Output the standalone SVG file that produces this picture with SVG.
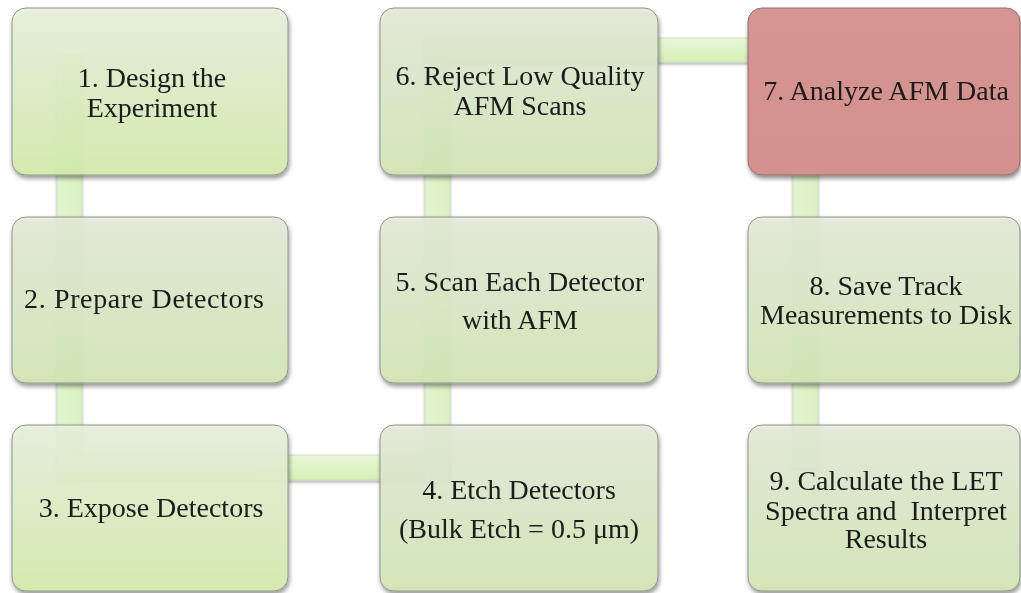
<svg xmlns="http://www.w3.org/2000/svg" width="1021" height="593" viewBox="0 0 1021 593">
<defs>
<linearGradient id="gBox" x1="0" y1="0" x2="0" y2="1">
<stop offset="0" stop-color="#e5ecdb"/>
<stop offset="1" stop-color="#d4e9b6"/>
</linearGradient>
<linearGradient id="gBox1" x1="0" y1="0" x2="0" y2="1">
<stop offset="0" stop-color="#e9f2de"/>
<stop offset="1" stop-color="#d5eead"/>
</linearGradient>
<linearGradient id="gRed" x1="0" y1="0" x2="0" y2="1">
<stop offset="0" stop-color="#d69592"/>
<stop offset="1" stop-color="#d4918e"/>
</linearGradient>
<linearGradient id="gBarV" x1="0" y1="0" x2="1" y2="0">
<stop offset="0" stop-color="#e4f5cf"/>
<stop offset="1" stop-color="#dcf1c2"/>
</linearGradient>
<linearGradient id="gBarH" x1="0" y1="0" x2="0" y2="1">
<stop offset="0" stop-color="#eaf8d9"/>
<stop offset="1" stop-color="#d6efb5"/>
</linearGradient>
<filter id="sh" x="-10%" y="-10%" width="120%" height="125%">
<feDropShadow dx="1" dy="3" stdDeviation="2" flood-color="#000" flood-opacity="0.45"/>
</filter>
<filter id="shb" x="-10%" y="-10%" width="120%" height="130%">
<feDropShadow dx="0" dy="2" stdDeviation="1.5" flood-color="#000" flood-opacity="0.3"/>
</filter>
</defs>
<style>
.box{fill:url(#gBox);fill-opacity:0.88;stroke:#8e9488;stroke-width:1;}
.box1{fill:url(#gBox1);fill-opacity:0.88;stroke:#8e9488;stroke-width:1;}
.red{fill:url(#gRed);stroke:#8e7070;stroke-width:1;}
.bv{fill:url(#gBarV);stroke:#cbd8be;stroke-width:0.8;}
.bh{fill:url(#gBarH);stroke:#cbd8be;stroke-width:0.8;}
.t{font-size:28px;fill:#1a1a1a;text-anchor:middle;white-space:pre;}
</style>
<rect width="1021" height="593" fill="#ffffff"/>
<g id="connectors" filter="url(#shb)">
<rect class="bv" x="57" y="55" width="25" height="425"/>
<rect class="bh" x="57" y="455" width="393" height="25"/>
<rect class="bv" x="425" y="38" width="25" height="442"/>
<rect class="bh" x="425" y="38" width="393" height="24"/>
<rect class="bv" x="793" y="38" width="25" height="430"/>
</g>
<g font-family="Liberation Serif, DejaVu Serif, serif">
<g id="node1" filter="url(#sh)">
<rect class="box1" x="12" y="8" width="276" height="167" rx="14"/>
<text class="t" x="152" y="87">1. Design the</text>
<text class="t" x="152" y="117">Experiment</text>
</g>
<g id="node2" filter="url(#sh)">
<rect class="box" x="12" y="217" width="276" height="166" rx="14"/>
<text class="t" x="144" y="308" textLength="240" lengthAdjust="spacing">2. Prepare Detectors</text>
</g>
<g id="node3" filter="url(#sh)">
<rect class="box1" x="12" y="425" width="276" height="166" rx="14"/>
<text class="t" x="151" y="517">3. Expose Detectors</text>
</g>
<g id="node4" filter="url(#sh)">
<rect class="box" x="380" y="425" width="278" height="166" rx="14"/>
<text class="t" x="519" y="499">4. Etch Detectors</text>
<text class="t" x="519" y="538">(Bulk Etch = 0.5 μm)</text>
</g>
<g id="node5" filter="url(#sh)">
<rect class="box" x="380" y="217" width="278" height="166" rx="14"/>
<text class="t" x="520" y="291">5. Scan Each Detector</text>
<text class="t" x="520" y="329">with AFM</text>
</g>
<g id="node6" filter="url(#sh)">
<rect class="box" x="380" y="8" width="278" height="167" rx="14"/>
<text class="t" x="520" y="85">6. Reject Low Quality</text>
<text class="t" x="520" y="115">AFM Scans</text>
</g>
<g id="node7" filter="url(#sh)">
<rect class="red" x="748" y="8" width="272" height="167" rx="14"/>
<text class="t" x="886" y="100">7. Analyze AFM Data</text>
</g>
<g id="node8" filter="url(#sh)">
<rect class="box" x="748" y="217" width="272" height="166" rx="14"/>
<text class="t" x="886" y="295">8. Save Track</text>
<text class="t" x="886" y="324">Measurements to Disk</text>
</g>
<g id="node9" filter="url(#sh)">
<rect class="box" x="748" y="425" width="272" height="166" rx="14"/>
<text class="t" x="886" y="490">9. Calculate the LET</text>
<text class="t" x="886" y="520">Spectra and  Interpret</text>
<text class="t" x="886" y="548">Results</text>
</g>
</g>
</svg>
